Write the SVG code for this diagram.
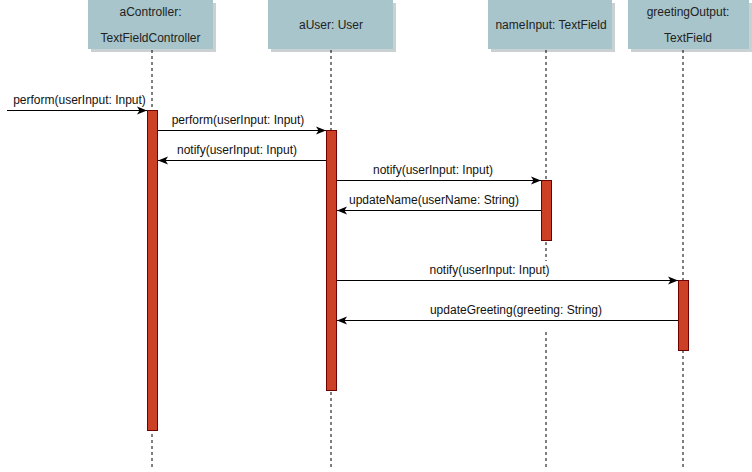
<svg xmlns="http://www.w3.org/2000/svg" width="752" height="472" viewBox="0 0 752 472">
<style>
.box{fill:#a7c5ca;stroke:none}
.shadow{fill:#8a9a9c;opacity:0.45}
.hdr{font-family:"Liberation Sans",Arial,sans-serif;font-size:12px;fill:#222;text-anchor:middle}
.life{stroke:#000;stroke-width:1;stroke-dasharray:3,3;fill:none}
.act{fill:#cc4125;stroke:#6f0000;stroke-width:1}
.msg{stroke:#000;stroke-width:1;fill:none;marker-end:url(#arr)}
.lbl{font-family:"Liberation Sans",Arial,sans-serif;font-size:12px;fill:#111;text-anchor:middle}
.bg{fill:#fff;stroke:none}
</style>
<defs>
<marker id="arr" viewBox="0 0 10 10" refX="10" refY="5" markerWidth="10" markerHeight="10" markerUnits="userSpaceOnUse" orient="auto">
<path d="M0,1 L10,5 L0,9 L2.5,5 Z" fill="#000"/>
</marker>
</defs>
<rect width="752" height="472" fill="#fff"/>
<g id="aController">
<rect class="shadow" x="91" y="3" width="125" height="49"/>
<rect class="box" x="88" y="0" width="125" height="49"/>
<text class="hdr" x="150.5" y="16">aController:</text>
<text class="hdr" x="150.5" y="42">TextFieldController</text>
<line class="life" x1="152" y1="50" x2="152" y2="470"/>
<rect class="act" x="147.5" y="110.5" width="10" height="320"/>
</g>
<g id="aUser">
<rect class="shadow" x="271" y="3" width="125" height="49"/>
<rect class="box" x="268" y="0" width="125" height="49"/>
<text class="hdr" x="331" y="29">aUser: User</text>
<line class="life" x1="331" y1="50" x2="331" y2="470"/>
<rect class="act" x="326.5" y="130.5" width="10" height="260"/>
</g>
<g id="nameInput">
<rect class="shadow" x="491" y="3" width="124" height="49"/>
<rect class="box" x="488" y="0" width="124" height="49"/>
<text class="hdr" x="551" y="29">nameInput: TextField</text>
<line class="life" x1="546" y1="50" x2="546" y2="470"/>
<rect class="act" x="541.5" y="180.5" width="10" height="60"/>
</g>
<g id="greetingOutput">
<rect class="shadow" x="631" y="3" width="121" height="49"/>
<rect class="box" x="628" y="0" width="121" height="49"/>
<text class="hdr" x="688" y="16">greetingOutput:</text>
<text class="hdr" x="688" y="42">TextField</text>
<line class="life" x1="683" y1="50" x2="683" y2="470"/>
<rect class="act" x="678.5" y="280.5" width="10" height="70"/>
</g>
<g id="connectors">
<rect class="bg" x="429" y="261" width="121" height="19"/>
<rect class="bg" x="428" y="282" width="176" height="48"/>
<line class="msg" x1="7" y1="110.5" x2="147" y2="110.5"/>
<text class="lbl" x="79.5" y="104">perform(userInput: Input)</text>
<line class="msg" x1="158" y1="130.5" x2="326" y2="130.5"/>
<text class="lbl" x="238" y="124">perform(userInput: Input)</text>
<line class="msg" x1="326" y1="160.5" x2="158" y2="160.5"/>
<text class="lbl" x="237" y="154">notify(userInput: Input)</text>
<line class="msg" x1="337" y1="180.5" x2="541" y2="180.5"/>
<text class="lbl" x="433" y="174">notify(userInput: Input)</text>
<line class="msg" x1="541" y1="210.5" x2="337" y2="210.5"/>
<text class="lbl" x="434" y="204">updateName(userName: String)</text>
<line class="msg" x1="337" y1="280.5" x2="678" y2="280.5"/>
<text class="lbl" x="489.5" y="274">notify(userInput: Input)</text>
<line class="msg" x1="678" y1="320.5" x2="337" y2="320.5"/>
<text class="lbl" x="516" y="314">updateGreeting(greeting: String)</text>
</g>
</svg>
